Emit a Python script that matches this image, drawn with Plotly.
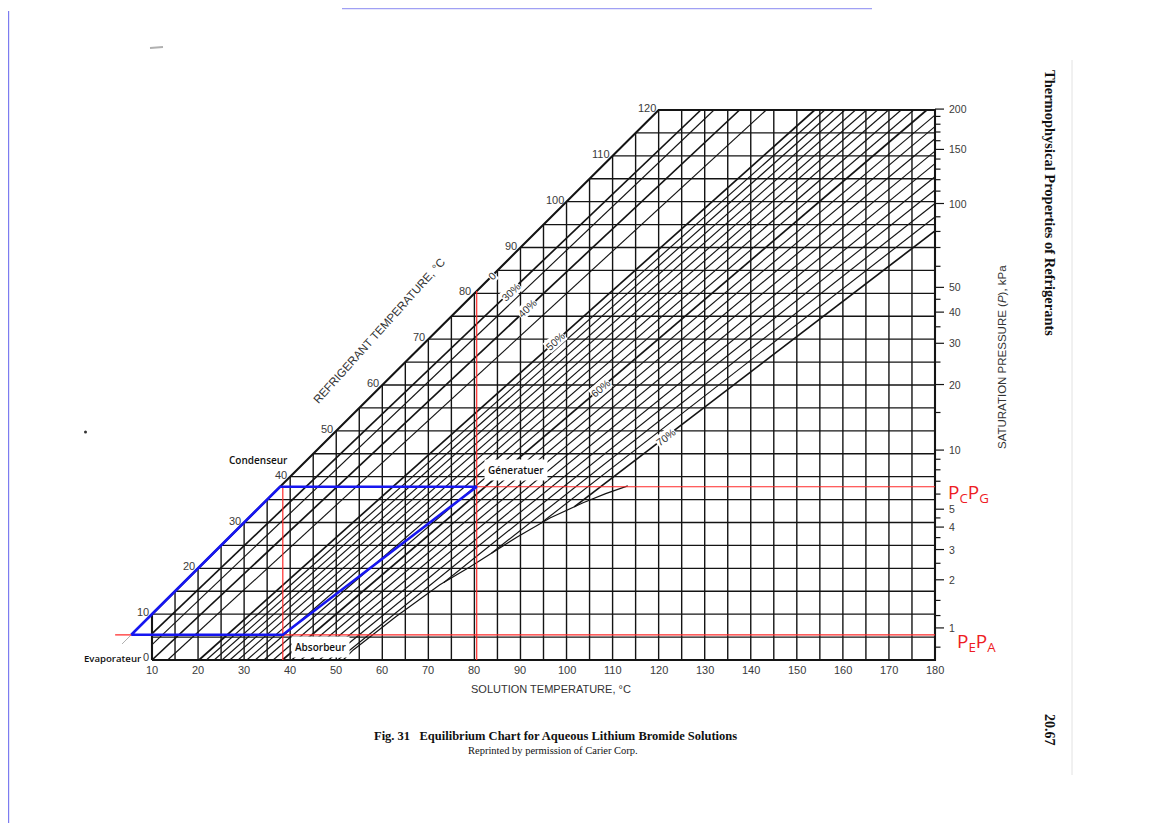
import numpy as np
import plotly.graph_objects as go

# the page body adds an 8 px margin, so the figure is drawn 8 px smaller
OFF = 8
W, H = 1156 - OFF, 823 - OFF

# ---------------- data ----------------
sol_tick_vals = list(range(10, 181, 10))        # solution temperature labels (°C)
refr_tick_vals = list(range(0, 121, 10))        # refrigerant temperature labels (°C)
grid_sol = list(range(10, 181, 5))              # vertical grid lines (°C)
grid_refr = list(range(0, 121, 5))              # horizontal grid lines (°C)

# saturation pressure scale (kPa) and the refrigerant temperature where each tick sits
p_labels = ["200", "150", "100", "50", "40", "30", "20", "10", "5", "4", "3", "2", "1"]
p_label_refr = [120.2, 111.4, 99.6, 81.3, 75.9, 69.1, 60.1, 45.8, 32.9, 29.0, 24.1, 17.5, 7.0]
p_minor_refr = [118.6, 116.9, 115.2, 113.3, 109.3, 107.1, 104.8, 102.3, 96.7, 93.5, 90.0,
                85.9, 78.7, 72.7, 65.0, 54.0, 43.8, 41.5, 39.0, 36.2, 31.0, 26.7, 21.1,
                13.0, 9.7, 2.8]

# LiBr concentration lines: solution temperature at refrigerant 0 °C and at 100 °C
conc_pct = [30, 35, 40, 45, 50, 51, 52, 53, 54, 55, 56, 57, 58, 59, 60,
            61, 62, 63, 64, 65, 66, 67, 68, 69, 70]
conc_t0 = [4.0, 6.5, 10.0, 13.4, 20.2, 21.8, 23.5, 25.2, 26.9, 28.7, 30.6, 32.4, 34.3, 36.3, 38.3,
           40.3, 42.3, 44.3, 46.3, 48.3, 50.3, 52.3, 54.3, 56.2, 58.2]
conc_t100 = [108.3, 111.1, 116.3, 121.7, 131.6, 133.7, 135.7, 137.9, 140.1, 142.4, 144.7, 147.0,
             149.6, 152.2, 154.9, 157.8, 160.6, 163.6, 166.7, 169.9, 173.3, 176.8, 180.5,
             184.3, 188.3]
conc_bold = [30, 40, 50, 60, 70]

# labelled concentrations and the refrigerant temperature where the label sits
label_pct = [30, 40, 50, 60, 70]
label_refr = [80.4, 76.7, 69.5, 59.3, 48.7]
zero_label_refr = 83.8

# crystallization line (solution temp, refrigerant temp)
cry_t = [113.3, 108.5, 103.6, 96.4, 89.2, 79.0, 72.5, 63.0, 53.7, 51.5]
cry_tp = [38.0, 36.3, 34.3, 31.0, 26.8, 20.3, 16.4, 9.5, 2.2, 0.0]

# absorption cycle (evaporator -> condenser -> generator -> absorber)
cycle_sol = [5.5, 37.8, 80.5, 38.4, 5.5]
cycle_refr = [5.5, 37.8, 37.8, 5.5, 5.5]
t_absorber, t_generator = 38.4, 80.5
p_high_refr, p_low_refr = 37.8, 5.5
low_line_start = 2.0

# ---------------- scales (pixel <-> data) ----------------
KX = 783.0 / 170.0          # px per °C solution
KY = 550.0 / 120.0          # px per °C refrigerant
X0 = 10 - (152.0 - OFF) / KX
X1 = X0 + W / KX
Y1 = (660.0 - OFF) / KY
Y0 = Y1 - H / KY


def dx(px):
    return X0 + (px - OFF) / KX


def dy(py):
    return Y1 - (py - OFF) / KY


def px_(px):
    return (px - OFF) / W


def py_(py):
    return 1 - (py - OFF) / H


fig = go.Figure()
INK = "#141414"


def add_lines(xs, ys, width, color=INK, dash=None):
    fig.add_trace(go.Scatter(x=xs, y=ys, mode="lines", hoverinfo="skip", showlegend=False,
                             line=dict(width=width, color=color, dash=dash)))


# grid
gx, gy = [], []
for t in grid_sol:
    if t in (10, 180):
        continue
    gx += [t, t, None]
    gy += [0, min(t, 120), None]
for tp in grid_refr:
    if tp in (0, 120):
        continue
    gx += [max(10, tp), 180, None]
    gy += [tp, tp, None]
add_lines(gx, gy, 1.4)

# concentration lines
tp_s = np.linspace(0, 120, 6001)
cry_at = np.interp(tp_s, cry_tp[::-1], cry_t[::-1], right=np.inf)
thin_x, thin_y, bold_x, bold_y = [], [], [], []
conc_lines = {}
for c, t0, t100 in zip(conc_pct, conc_t0, conc_t100):
    a = (t100 - t0) / 100.0
    lt = t0 + a * tp_s
    mask = (lt >= 10) & (lt <= 180) & (lt < cry_at)
    idx = np.where(mask)[0]
    if len(idx) == 0:
        continue
    brk = np.where(np.diff(idx) > 1)[0]
    if len(brk):
        idx = idx[brk[-1] + 1:]
    i0, i1 = idx[0], idx[-1]
    conc_lines[c] = (t0, a)
    xs = [lt[i0], lt[i1], None]
    ys = [tp_s[i0], tp_s[i1], None]
    if c in conc_bold:
        bold_x += xs; bold_y += ys
    else:
        thin_x += xs; thin_y += ys
add_lines(thin_x, thin_y, 1.15)
add_lines(bold_x, bold_y, 1.7)

# crystallization line
add_lines(cry_t, cry_tp, 1.2)

# frame
add_lines([10, 180, 180, 120, 10, 10], [0, 0, 120, 120, 10, 0], 2.1)
# pure-water line extension
add_lines([3.5, 10], [3.5, 10], 0.8, "#9a9a9a")

# pressure ticks
tx, ty = [], []
for tp in p_label_refr:
    tx += [180, 180 + 9 / KX, None]; ty += [tp, tp, None]
for tp in p_minor_refr:
    tx += [180, 180 + 5.5 / KX, None]; ty += [tp, tp, None]
add_lines(tx, ty, 1.2)

# red reference lines
add_lines([t_generator, 180, None, low_line_start, 180, None, t_absorber, t_absorber, None,
           t_generator, t_generator],
          [p_high_refr, p_high_refr, None, p_low_refr, p_low_refr, None, 0, p_high_refr, None,
           0, t_generator], 1.2, "#ff2a2a")

# cycle
add_lines(cycle_sol, cycle_refr, 2.6, "#1616f0")

# ---------------- text ----------------
ann = []
TICKC = "#3a3a3a"
SANS = "Liberation Sans, Arial, sans-serif"
SERIF = "Liberation Serif, Times New Roman, serif"

for v in sol_tick_vals:
    ann.append(dict(x=v, y=dy(670), text=str(v), showarrow=False, xanchor="center",
                    yanchor="middle", font=dict(family=SANS, size=11, color=TICKC)))
for v in refr_tick_vals:
    ann.append(dict(x=max(10, v), y=v, text=str(v), showarrow=False, xanchor="right", xshift=-1,
                    yanchor="middle", yshift=3 if v == 0 else 2,
                    font=dict(family=SANS, size=11, color=TICKC)))
for lab, tp in zip(p_labels, p_label_refr):
    ann.append(dict(x=dx(947), y=tp, text=lab, showarrow=False, xanchor="left",
                    yanchor="middle", font=dict(family=SANS, size=10.5, color=TICKC)))

# concentration labels
for c, tp in zip(label_pct, label_refr):
    t0, a = conc_lines[c]
    ang = -np.degrees(np.arctan2(KY, a * KX))
    ann.append(dict(x=t0 + a * tp, y=tp, text=f"{c}%", showarrow=False, textangle=ang,
                    xanchor="center", yanchor="middle", bgcolor="white", borderpad=0,
                    font=dict(family=SANS, size=10.5, color="#333333")))
ann.append(dict(x=zero_label_refr, y=zero_label_refr, text="0", showarrow=False, textangle=-45,
                bgcolor="white", borderpad=0, font=dict(family=SANS, size=10.5, color="#333333")))

ann.append(dict(x=dx(379), y=dy(331), text="REFRIGERANT TEMPERATURE, °C", showarrow=False,
                textangle=-48, font=dict(family=SANS, size=11.5, color="#333333")))
ann.append(dict(x=dx(551), y=dy(689), text="SOLUTION TEMPERATURE, °C", showarrow=False,
                font=dict(family=SANS, size=11, color="#333333")))
ann.append(dict(x=dx(1002), y=dy(357), text="SATURATION PRESSURE (<i>P</i>), kPa",
                showarrow=False, textangle=-90, font=dict(family=SANS, size=11.5, color="#333333")))

LBL = dict(family="Open Sans, Noto Sans, sans-serif", size=10, color="#111111", weight=600)
ann.append(dict(x=dx(258), y=dy(460), text="Condenseur", showarrow=False, font=LBL))
ann.append(dict(x=dx(143), y=dy(658), text="Evaporateur", showarrow=False, xanchor="right",
                font=dict(family="Open Sans, Noto Sans, sans-serif", size=9.6, color="#111111",
                          weight=600)))
ann.append(dict(x=dx(320), y=dy(647), text="Absorbeur", showarrow=False, font=LBL,
                bgcolor="white", borderpad=3))
ann.append(dict(x=dx(516), y=dy(470), text="Géneratuer", showarrow=False, font=LBL,
                bgcolor="white", borderpad=3))

RED = dict(family="Open Sans, Noto Sans, sans-serif", size=19, color="#ee1c24")
ann.append(dict(x=dx(946), y=dy(493), text="P<sub>C</sub>P<sub>G</sub>", showarrow=False,
                xanchor="left", yanchor="middle", font=RED))
ann.append(dict(x=dx(955), y=dy(642), text="P<sub>E</sub>P<sub>A</sub>", showarrow=False,
                xanchor="left", yanchor="middle", font=RED))

ann.append(dict(x=dx(555), y=dy(736), showarrow=False,
                text="<b>Fig. 31   Equilibrium Chart for Aqueous Lithium Bromide Solutions</b>",
                font=dict(family=SERIF, size=12.5, color="#111111")))
ann.append(dict(x=dx(553), y=dy(750), showarrow=False,
                text="Reprinted by permission of Carier Corp.",
                font=dict(family=SERIF, size=10.5, color="#111111")))
ann.append(dict(x=dx(1050), y=dy(203), showarrow=False, textangle=90,
                text="<b>Thermophysical Properties of Refrigerants</b>",
                font=dict(family=SERIF, size=14.5, color="#111111")))
ann.append(dict(x=dx(1050), y=dy(730), showarrow=False, textangle=90, text="<b>20.67</b>",
                font=dict(family=SERIF, size=14, color="#111111")))

# page decorations
shapes = [
    dict(type="line", xref="paper", yref="paper", x0=px_(8.6), x1=px_(8.6), y0=0, y1=py_(11),
         line=dict(color="#7c7cf0", width=1.2)),
    dict(type="line", xref="paper", yref="paper", x0=px_(342), x1=px_(872), y0=py_(8.6),
         y1=py_(8.6), line=dict(color="#a0a0f4", width=1.2)),
    dict(type="line", xref="paper", yref="paper", x0=px_(1072), x1=px_(1072), y0=py_(60),
         y1=py_(775), line=dict(color="#e2e2e2", width=1)),
    dict(type="line", xref="paper", yref="paper", x0=px_(150), x1=px_(163), y0=py_(48),
         y1=py_(47), line=dict(color="#b0b0b0", width=2)),
    dict(type="circle", xref="paper", yref="paper", x0=px_(84), x1=px_(87), y0=py_(430.5),
         y1=py_(433.5), fillcolor="#333", line=dict(width=0)),
]

fig.update_layout(
    width=W, height=H, margin=dict(l=0, r=0, t=0, b=0),
    paper_bgcolor="white", plot_bgcolor="white",
    xaxis=dict(range=[X0, X1], visible=False, fixedrange=True),
    yaxis=dict(range=[Y0, Y1], visible=False, fixedrange=True),
    annotations=ann, shapes=shapes, showlegend=False,
)
fig.write_html("out.html")
